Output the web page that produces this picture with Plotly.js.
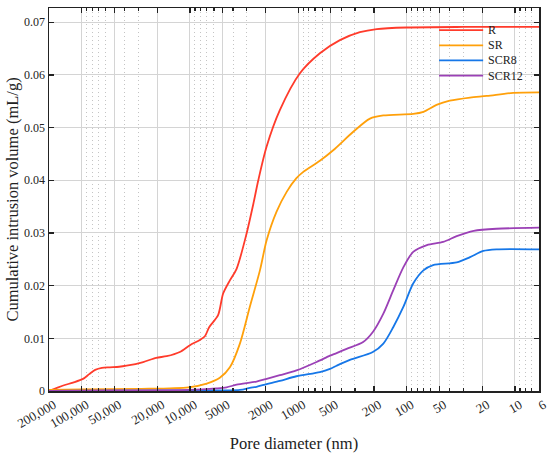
<!DOCTYPE html>
<html>
<head>
<meta charset="utf-8">
<script src="https://cdn.plot.ly/plotly-3.0.1.min.js"></script>
<style>html,body{margin:0;padding:0;background:#fff;}#chart{width:550px;height:453px;}</style>
</head>
<body>
<div id="chart"></div>
<script>
// Pore diameter (nm) and cumulative intrusion volume (mL/g)
const rDiam = [200000,150000,120000,97000,85000,75000,65000,55000,45000,38500,27000,20500,16400,12400,10000,8100,7280,6650,5500,4940,4280,3710,3000,2600,2340,1960,1480,966,632,413,270,189,100,30,6];
const rVal  = [0,0.0010,0.0016,0.0023,0.0032,0.0040,0.0044,0.0045,0.0046,0.0048,0.0055,0.0063,0.0066,0.0074,0.0087,0.0097,0.0104,0.0121,0.0144,0.0185,0.0210,0.0232,0.0299,0.0355,0.0400,0.0464,0.0533,0.0603,0.0641,0.0666,0.0681,0.0687,0.0690,0.0691,0.0691];

const srDiam = [200000,100000,29000,10300,7000,5300,4280,3460,2800,2260,1960,1590,1280,1040,900,632,476,311,218,164,87,70,53,40,26,18.2,10.4,6];
const srVal  = [0.0002,0.0003,0.0004,0.0007,0.0014,0.0025,0.0045,0.0090,0.0160,0.0229,0.0286,0.0340,0.0378,0.0404,0.0416,0.0437,0.0457,0.0492,0.0517,0.0523,0.0526,0.0530,0.0543,0.0551,0.0557,0.0560,0.0566,0.0567];

const scr8Diam = [200000,10300,3460,2800,2430,1960,1480,1040,632,510,443,334,205,164,133,107,87,70,57,34.5,26,19.6,14.8,6];
const scr8Val  = [0,0.0001,0.0002,0.0006,0.0008,0.0013,0.0019,0.0028,0.0036,0.0042,0.0048,0.0059,0.0074,0.0090,0.0121,0.0160,0.0204,0.0229,0.0239,0.0244,0.0254,0.0266,0.0269,0.0269];

const scr12Diam = [200000,50000,10300,5700,4590,3710,2430,1960,1480,1040,678,510,443,358,252,205,164,133,107,87,65,46,34.5,24,14.8,6];
const scr12Val  = [0,0.0001,0.0002,0.0005,0.0007,0.0012,0.0018,0.0023,0.0030,0.0039,0.0055,0.0067,0.0072,0.0080,0.0093,0.0112,0.0147,0.0191,0.0235,0.0264,0.0277,0.0283,0.0294,0.0304,0.0308,0.0310];

const seriesNames = ['R','SR','SCR8','SCR12'];
const xTickVals = [200000,100000,50000,20000,10000,5000,2000,1000,500,200,100,50,20,10,6];
const xTickText = ['200,000','100,000','50,000','20,000','10,000','5000','2000','1000','500','200','100','50','20','10','6'];
const yTickVals = [0,0.01,0.02,0.03,0.04,0.05,0.06,0.07];
const yTickText = ['0','0.01','0.02','0.03','0.04','0.05','0.06','0.07'];

// minor grid positions: 2..9 times each decade, excluding labelled ones, within range
const minorVals = [];
[1,10,100,1000,10000].forEach(d => {
  for (let m = 2; m <= 9; m++) {
    const v = m * d;
    if (v >= 6 && v <= 200000 && xTickVals.indexOf(v) < 0) minorVals.push(v);
  }
});

const colors = ['#FF3B2B','#FFA00A','#1677E8','#9B40B6'];
const xs = [rDiam, srDiam, scr8Diam, scr12Diam];
const ys = [rVal, srVal, scr8Val, scr12Val];

const traces = seriesNames.map((n, i) => ({
  x: xs[i], y: ys[i], name: n, type: 'scatter', mode: 'lines',
  line: {color: colors[i], width: 1.8, shape: 'spline', smoothing: 0.8}
}));

const FAM = 'Liberation Serif';
const TXT = '#222';

// manual legend (compact rows like the original)
const legX0 = 0.796, legX1 = 0.886, legTop = 0.942, legStep = 0.0395;
const shapes = [], annotations = [];
seriesNames.forEach((n, i) => {
  const yy = legTop - i * legStep;
  shapes.push({type: 'line', xref: 'paper', yref: 'paper', x0: legX0, x1: legX1, y0: yy, y1: yy,
               line: {color: colors[i], width: 1.8}});
  annotations.push({xref: 'paper', yref: 'paper', x: legX1 + 0.006, y: yy, xanchor: 'left', yanchor: 'middle',
                    text: n, showarrow: false, font: {family: FAM, size: 12, color: TXT}});
});

const layout = {
  width: 550, height: 453,
  margin: {l: 49, r: 11, t: 8, b: 62},
  paper_bgcolor: '#fff', plot_bgcolor: '#fff',
  font: {family: FAM, size: 12, color: TXT},
  showlegend: false,
  shapes: shapes, annotations: annotations,
  xaxis: {
    type: 'log', range: [Math.log10(200000), Math.log10(6)],
    tickmode: 'array', tickvals: xTickVals, ticktext: xTickText, tickangle: -30,
    ticklabelshift: -5,
    ticks: 'inside', ticklen: 5, tickwidth: 1.2, tickcolor: TXT,
    showline: true, linecolor: TXT, linewidth: 1.5, mirror: 'ticks',
    showgrid: true, gridcolor: '#d4d4d4', gridwidth: 1, zeroline: false,
    minor: {tickmode: 'array', tickvals: minorVals, ticks: 'inside', ticklen: 3, tickcolor: TXT,
            showgrid: true, gridcolor: '#c4c4c4', gridwidth: 1, griddash: '1px,3px'},
    tickfont: {family: FAM, size: 13, color: TXT},
    title: {text: 'Pore diameter (nm)', font: {family: FAM, size: 16.5, color: TXT}, standoff: 10}
  },
  yaxis: {
    range: [0, 0.0727], tickmode: 'array', tickvals: yTickVals, ticktext: yTickText,
    ticks: 'inside', ticklen: 5, tickwidth: 1.2, tickcolor: TXT,
    showline: true, linecolor: TXT, linewidth: 1.5, mirror: 'ticks',
    showgrid: true, gridcolor: '#d4d4d4', gridwidth: 1, zeroline: false,
    automargin: true,
    tickfont: {family: FAM, size: 12, color: TXT},
    title: {text: 'Cumulative intrusion volume (mL/g)', font: {family: FAM, size: 16.5, color: TXT}, standoff: 1}
  }
};

Plotly.newPlot('chart', traces, layout, {staticPlot: true, displayModeBar: false});
</script>
</body>
</html>
